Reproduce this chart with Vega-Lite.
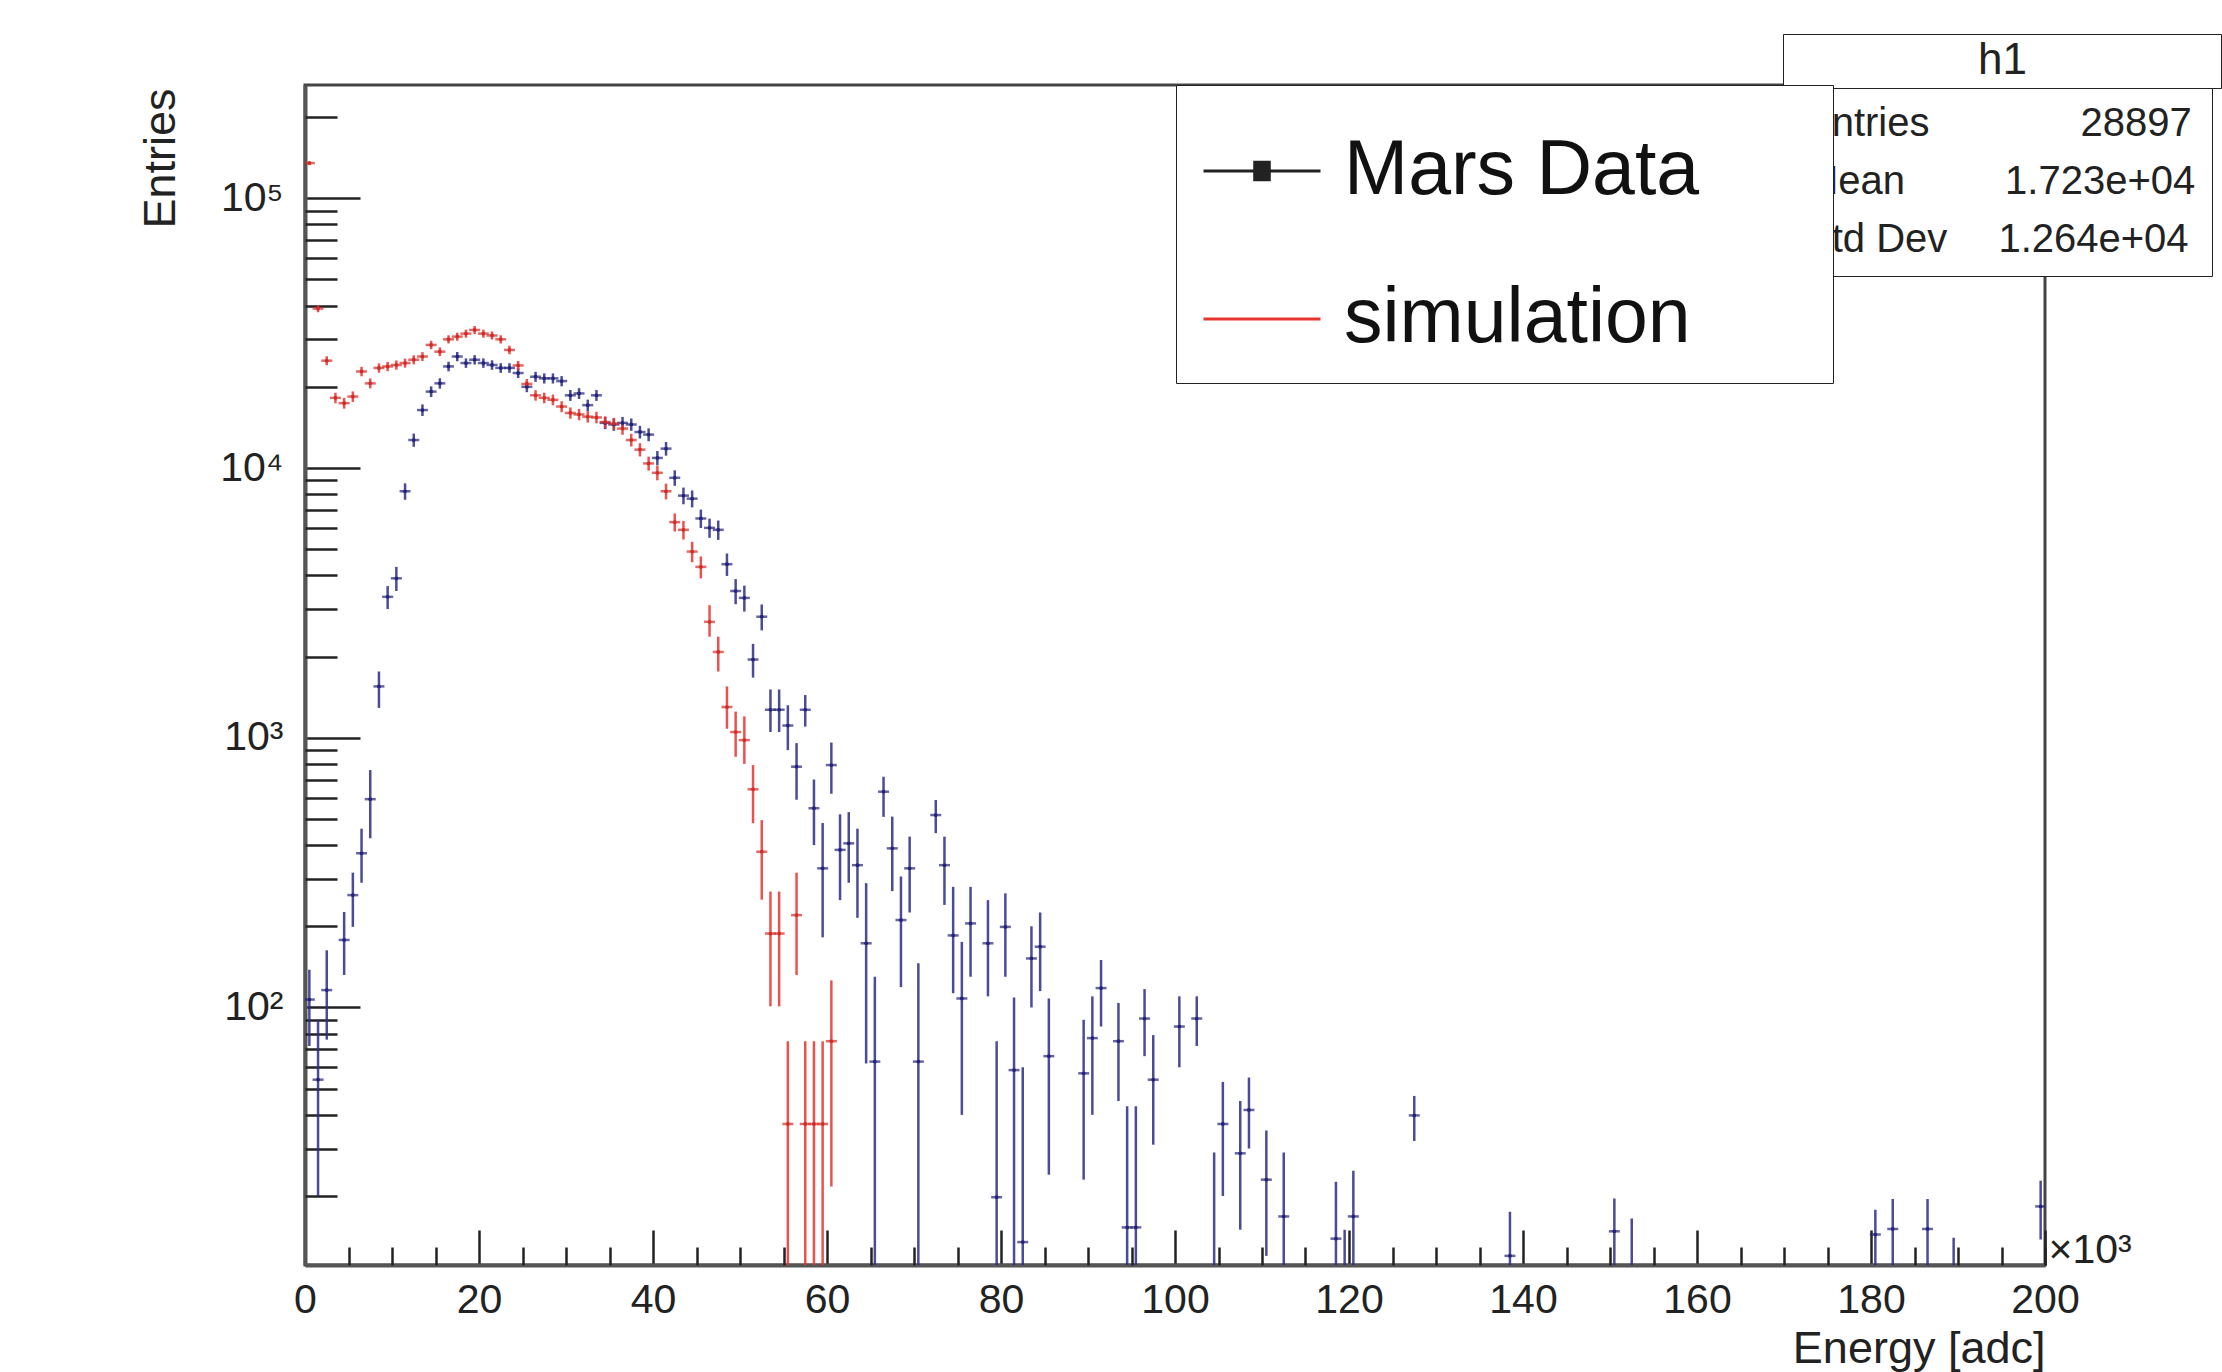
{
  "$schema": "https://vega.github.io/schema/vega-lite/v6.json",
  "width": 1740,
  "height": 1180,
  "autosize": {"type": "none"},
  "padding": {"left": 305, "top": 85, "right": 177, "bottom": 107},
  "background": "white",
  "config": {
    "font": "Liberation Sans",
    "view": {"stroke": "#444", "strokeWidth": 3}
  },
  "datasets": {
    "hist": [
      {"s":"Mars Data","x":0.5,"v":107,"lo":72,"hi":138},
      {"s":"Mars Data","x":1.5,"v":54,"lo":20,"hi":90},
      {"s":"Mars Data","x":2.5,"v":116,"lo":76,"hi":163},
      {"s":"Mars Data","x":4.5,"v":178,"lo":132,"hi":226},
      {"s":"Mars Data","x":5.5,"v":261,"lo":199,"hi":316},
      {"s":"Mars Data","x":6.5,"v":373,"lo":290,"hi":460},
      {"s":"Mars Data","x":7.5,"v":592,"lo":424,"hi":759},
      {"s":"Mars Data","x":8.5,"v":1550,"lo":1290,"hi":1760},
      {"s":"Mars Data","x":9.5,"v":3330,"lo":3000,"hi":3650},
      {"s":"Mars Data","x":10.5,"v":3900,"lo":3500,"hi":4300},
      {"s":"Mars Data","x":11.5,"v":8200,"lo":7627,"hi":8773},
      {"s":"Mars Data","x":12.5,"v":12700,"lo":11987,"hi":13413},
      {"s":"Mars Data","x":13.5,"v":16400,"lo":15590,"hi":17210},
      {"s":"Mars Data","x":14.5,"v":19200,"lo":18324,"hi":20076},
      {"s":"Mars Data","x":15.5,"v":20600,"lo":19692,"hi":21508},
      {"s":"Mars Data","x":16.5,"v":23800,"lo":22824,"hi":24776},
      {"s":"Mars Data","x":17.5,"v":25900,"lo":24882,"hi":26918},
      {"s":"Mars Data","x":18.5,"v":24500,"lo":23510,"hi":25490},
      {"s":"Mars Data","x":19.5,"v":25200,"lo":24196,"hi":26204},
      {"s":"Mars Data","x":20.5,"v":24500,"lo":23510,"hi":25490},
      {"s":"Mars Data","x":21.5,"v":24100,"lo":23118,"hi":25082},
      {"s":"Mars Data","x":22.5,"v":23500,"lo":22530,"hi":24470},
      {"s":"Mars Data","x":23.5,"v":23500,"lo":22530,"hi":24470},
      {"s":"Mars Data","x":24.5,"v":22500,"lo":21551,"hi":23449},
      {"s":"Mars Data","x":25.5,"v":20000,"lo":19106,"hi":20894},
      {"s":"Mars Data","x":26.5,"v":21800,"lo":20866,"hi":22734},
      {"s":"Mars Data","x":27.5,"v":21500,"lo":20573,"hi":22427},
      {"s":"Mars Data","x":28.5,"v":21500,"lo":20573,"hi":22427},
      {"s":"Mars Data","x":29.5,"v":21000,"lo":20083,"hi":21917},
      {"s":"Mars Data","x":30.5,"v":18600,"lo":17737,"hi":19463},
      {"s":"Mars Data","x":31.5,"v":18900,"lo":18031,"hi":19769},
      {"s":"Mars Data","x":32.5,"v":17100,"lo":16273,"hi":17927},
      {"s":"Mars Data","x":33.5,"v":18600,"lo":17737,"hi":19463},
      {"s":"Mars Data","x":34.5,"v":14700,"lo":13933,"hi":15467},
      {"s":"Mars Data","x":35.5,"v":14500,"lo":13738,"hi":15262},
      {"s":"Mars Data","x":36.5,"v":14700,"lo":13933,"hi":15467},
      {"s":"Mars Data","x":37.5,"v":14500,"lo":13738,"hi":15262},
      {"s":"Mars Data","x":38.5,"v":13600,"lo":12862,"hi":14338},
      {"s":"Mars Data","x":39.5,"v":13300,"lo":12571,"hi":14029},
      {"s":"Mars Data","x":40.5,"v":10900,"lo":10240,"hi":11560},
      {"s":"Mars Data","x":41.5,"v":11800,"lo":11113,"hi":12487},
      {"s":"Mars Data","x":42.5,"v":9200,"lo":8593,"hi":9807},
      {"s":"Mars Data","x":43.5,"v":7900,"lo":7338,"hi":8462},
      {"s":"Mars Data","x":44.5,"v":7700,"lo":7145,"hi":8255},
      {"s":"Mars Data","x":45.5,"v":6500,"lo":5990,"hi":7010},
      {"s":"Mars Data","x":46.5,"v":6000,"lo":5510,"hi":6490},
      {"s":"Mars Data","x":47.5,"v":5900,"lo":5414,"hi":6386},
      {"s":"Mars Data","x":48.5,"v":4400,"lo":3980,"hi":4820},
      {"s":"Mars Data","x":49.5,"v":3500,"lo":3126,"hi":3874},
      {"s":"Mars Data","x":50.5,"v":3300,"lo":2937,"hi":3663},
      {"s":"Mars Data","x":51.5,"v":1950,"lo":1671,"hi":2229},
      {"s":"Mars Data","x":52.5,"v":2810,"lo":2500,"hi":3120},
      {"s":"Mars Data","x":53.5,"v":1270,"lo":1050,"hi":1510},
      {"s":"Mars Data","x":54.5,"v":1270,"lo":1050,"hi":1510},
      {"s":"Mars Data","x":55.5,"v":1110,"lo":900,"hi":1320},
      {"s":"Mars Data","x":56.5,"v":781,"lo":589,"hi":955},
      {"s":"Mars Data","x":57.5,"v":1270,"lo":1100,"hi":1440},
      {"s":"Mars Data","x":58.5,"v":548,"lo":400,"hi":700},
      {"s":"Mars Data","x":59.5,"v":328,"lo":182,"hi":483},
      {"s":"Mars Data","x":60.5,"v":792,"lo":620,"hi":960},
      {"s":"Mars Data","x":61.5,"v":384,"lo":250,"hi":520},
      {"s":"Mars Data","x":62.5,"v":406,"lo":290,"hi":530},
      {"s":"Mars Data","x":63.5,"v":337,"lo":215,"hi":460},
      {"s":"Mars Data","x":64.5,"v":173,"lo":62,"hi":289},
      {"s":"Mars Data","x":65.5,"v":63,"lo":1,"hi":130},
      {"s":"Mars Data","x":66.5,"v":631,"lo":509,"hi":717},
      {"s":"Mars Data","x":67.5,"v":389,"lo":270,"hi":510},
      {"s":"Mars Data","x":68.5,"v":211,"lo":119,"hi":306},
      {"s":"Mars Data","x":69.5,"v":328,"lo":225,"hi":430},
      {"s":"Mars Data","x":70.5,"v":63,"lo":1,"hi":146},
      {"s":"Mars Data","x":72.5,"v":517,"lo":443,"hi":588},
      {"s":"Mars Data","x":73.5,"v":337,"lo":240,"hi":430},
      {"s":"Mars Data","x":74.5,"v":185,"lo":113,"hi":280},
      {"s":"Mars Data","x":75.5,"v":108,"lo":40,"hi":175},
      {"s":"Mars Data","x":76.5,"v":205,"lo":130,"hi":280},
      {"s":"Mars Data","x":78.5,"v":173,"lo":110,"hi":250},
      {"s":"Mars Data","x":79.5,"v":19.8,"lo":1,"hi":75},
      {"s":"Mars Data","x":80.5,"v":199,"lo":130,"hi":265},
      {"s":"Mars Data","x":81.5,"v":58.6,"lo":1,"hi":109},
      {"s":"Mars Data","x":82.5,"v":13.5,"lo":1,"hi":60},
      {"s":"Mars Data","x":83.5,"v":152,"lo":100,"hi":200},
      {"s":"Mars Data","x":84.5,"v":168,"lo":115,"hi":225},
      {"s":"Mars Data","x":85.5,"v":66,"lo":24,"hi":108},
      {"s":"Mars Data","x":89.5,"v":57,"lo":23,"hi":90},
      {"s":"Mars Data","x":90.5,"v":77,"lo":40,"hi":110},
      {"s":"Mars Data","x":91.5,"v":118,"lo":85,"hi":150},
      {"s":"Mars Data","x":93.5,"v":75,"lo":45,"hi":104},
      {"s":"Mars Data","x":94.5,"v":15.3,"lo":1,"hi":43},
      {"s":"Mars Data","x":95.5,"v":15.3,"lo":1,"hi":43},
      {"s":"Mars Data","x":96.5,"v":91,"lo":66,"hi":117},
      {"s":"Mars Data","x":97.5,"v":54,"lo":31,"hi":79},
      {"s":"Mars Data","x":100.5,"v":85,"lo":60,"hi":110},
      {"s":"Mars Data","x":102.5,"v":91,"lo":72,"hi":110},
      {"s":"Mars Data","x":104.5,"v":9,"lo":1,"hi":29},
      {"s":"Mars Data","x":105.5,"v":37,"lo":20,"hi":53},
      {"s":"Mars Data","x":107.5,"v":28.8,"lo":15,"hi":45},
      {"s":"Mars Data","x":108.5,"v":41.7,"lo":30,"hi":55},
      {"s":"Mars Data","x":110.5,"v":23,"lo":12,"hi":35},
      {"s":"Mars Data","x":112.5,"v":16.8,"lo":1,"hi":29},
      {"s":"Mars Data","x":118.5,"v":13.9,"lo":1,"hi":22.6},
      {"s":"Mars Data","x":119.5,"v":9,"lo":1,"hi":15},
      {"s":"Mars Data","x":120.5,"v":16.8,"lo":1,"hi":24.8},
      {"s":"Mars Data","x":127.5,"v":39.8,"lo":32,"hi":47},
      {"s":"Mars Data","x":138.5,"v":12,"lo":1,"hi":17.5},
      {"s":"Mars Data","x":150.5,"v":14.8,"lo":1,"hi":19.6},
      {"s":"Mars Data","x":152.5,"v":9,"lo":1,"hi":16.5},
      {"s":"Mars Data","x":180.5,"v":14.4,"lo":1,"hi":17.8},
      {"s":"Mars Data","x":182.5,"v":15.1,"lo":1,"hi":19.5},
      {"s":"Mars Data","x":186.5,"v":15.1,"lo":1,"hi":19.5},
      {"s":"Mars Data","x":189.5,"v":9,"lo":1,"hi":14},
      {"s":"Mars Data","x":199.5,"v":18.3,"lo":13.8,"hi":22.8},
      {"s":"simulation","x":0.5,"v":135000,"lo":132800,"hi":137200},
      {"s":"simulation","x":1.5,"v":39000,"lo":37800,"hi":40200},
      {"s":"simulation","x":2.5,"v":25000,"lo":24040,"hi":25960},
      {"s":"simulation","x":3.5,"v":18200,"lo":17380,"hi":19020},
      {"s":"simulation","x":4.5,"v":17400,"lo":16600,"hi":18200},
      {"s":"simulation","x":5.5,"v":18400,"lo":17575,"hi":19225},
      {"s":"simulation","x":6.5,"v":22800,"lo":21880,"hi":23720},
      {"s":"simulation","x":7.5,"v":20600,"lo":19730,"hi":21470},
      {"s":"simulation","x":8.5,"v":23500,"lo":22570,"hi":24430},
      {"s":"simulation","x":9.5,"v":23800,"lo":22860,"hi":24740},
      {"s":"simulation","x":10.5,"v":24100,"lo":23155,"hi":25045},
      {"s":"simulation","x":11.5,"v":24500,"lo":23550,"hi":25450},
      {"s":"simulation","x":12.5,"v":25200,"lo":24235,"hi":26165},
      {"s":"simulation","x":13.5,"v":25900,"lo":24920,"hi":26880},
      {"s":"simulation","x":14.5,"v":28600,"lo":27570,"hi":29630},
      {"s":"simulation","x":15.5,"v":27000,"lo":26000,"hi":28000},
      {"s":"simulation","x":16.5,"v":30000,"lo":28950,"hi":31050},
      {"s":"simulation","x":17.5,"v":30700,"lo":29635,"hi":31765},
      {"s":"simulation","x":18.5,"v":31500,"lo":30420,"hi":32580},
      {"s":"simulation","x":19.5,"v":32500,"lo":31400,"hi":33600},
      {"s":"simulation","x":20.5,"v":31500,"lo":30420,"hi":32580},
      {"s":"simulation","x":21.5,"v":31000,"lo":29930,"hi":32070},
      {"s":"simulation","x":22.5,"v":30000,"lo":28950,"hi":31050},
      {"s":"simulation","x":23.5,"v":27400,"lo":26395,"hi":28405},
      {"s":"simulation","x":24.5,"v":24000,"lo":23060,"hi":24940},
      {"s":"simulation","x":25.5,"v":20500,"lo":19630,"hi":21370},
      {"s":"simulation","x":26.5,"v":18600,"lo":17770,"hi":19430},
      {"s":"simulation","x":27.5,"v":18200,"lo":17380,"hi":19020},
      {"s":"simulation","x":28.5,"v":17900,"lo":17085,"hi":18715},
      {"s":"simulation","x":29.5,"v":16900,"lo":16110,"hi":17690},
      {"s":"simulation","x":30.5,"v":16000,"lo":15230,"hi":16770},
      {"s":"simulation","x":31.5,"v":15800,"lo":15035,"hi":16565},
      {"s":"simulation","x":32.5,"v":15500,"lo":14743,"hi":16257},
      {"s":"simulation","x":33.5,"v":15400,"lo":14645,"hi":16155},
      {"s":"simulation","x":34.5,"v":14800,"lo":14060,"hi":15540},
      {"s":"simulation","x":35.5,"v":14600,"lo":13865,"hi":15335},
      {"s":"simulation","x":36.5,"v":14000,"lo":13280,"hi":14720},
      {"s":"simulation","x":37.5,"v":12700,"lo":12015,"hi":13385},
      {"s":"simulation","x":38.5,"v":11700,"lo":11040,"hi":12360},
      {"s":"simulation","x":39.5,"v":10400,"lo":9780,"hi":11020},
      {"s":"simulation","x":40.5,"v":9600,"lo":9005,"hi":10195},
      {"s":"simulation","x":41.5,"v":8200,"lo":7650,"hi":8750},
      {"s":"simulation","x":42.5,"v":6300,"lo":5817,"hi":6783},
      {"s":"simulation","x":43.5,"v":5900,"lo":5433,"hi":6367},
      {"s":"simulation","x":44.5,"v":4900,"lo":4475,"hi":5325},
      {"s":"simulation","x":45.5,"v":4300,"lo":3900,"hi":4700},
      {"s":"simulation","x":46.5,"v":2690,"lo":2370,"hi":3100},
      {"s":"simulation","x":47.5,"v":2080,"lo":1760,"hi":2370},
      {"s":"simulation","x":48.5,"v":1300,"lo":1080,"hi":1550},
      {"s":"simulation","x":49.5,"v":1050,"lo":850,"hi":1250},
      {"s":"simulation","x":50.5,"v":980,"lo":800,"hi":1200},
      {"s":"simulation","x":51.5,"v":644,"lo":482,"hi":792},
      {"s":"simulation","x":52.5,"v":378,"lo":251,"hi":495},
      {"s":"simulation","x":53.5,"v":188,"lo":101,"hi":269},
      {"s":"simulation","x":54.5,"v":188,"lo":101,"hi":269},
      {"s":"simulation","x":55.5,"v":37,"lo":1,"hi":75},
      {"s":"simulation","x":56.5,"v":220,"lo":132,"hi":316},
      {"s":"simulation","x":57.5,"v":37,"lo":1,"hi":75},
      {"s":"simulation","x":58.5,"v":37,"lo":1,"hi":75},
      {"s":"simulation","x":59.5,"v":37,"lo":1,"hi":75},
      {"s":"simulation","x":60.5,"v":75,"lo":21.7,"hi":126}
    ],
    "series": [{"s": "Mars Data"}, {"s": "simulation"}],
    "stats": [
      {"stat": "Entries", "value": "28897"},
      {"stat": "Mean", "value": "1.723e+04"},
      {"stat": "Std Dev", "value": "1.264e+04"}
    ],
    "head": [{"hist": "h1"}]
  },
  "layer": [
    {
      "data": {"name": "hist"},
      "mark": {"type": "rule", "strokeWidth": 2.5, "opacity": 0.85, "clip": true},
      "encoding": {
        "x": {
          "field": "x", "type": "quantitative",
          "scale": {"domain": [0, 200], "nice": false, "zero": false},
          "axis": {
            "orient": "bottom",
            "values": [0, 20, 40, 60, 80, 100, 120, 140, 160, 180, 200],
            "tickSize": -35, "tickWidth": 2.5, "tickColor": "#222",
            "domainColor": "#555", "domainWidth": 4,
            "grid": false, "labelFlush": false,
            "labelFontSize": 41, "labelColor": "#222", "labelPadding": 50,
            "title": "Energy [adc]", "titleFontSize": 45, "titleFontWeight": "normal",
            "titleColor": "#222", "titleAnchor": "end", "titleAlign": "right",
            "titleBaseline": "alphabetic", "titleX": 1740, "titleY": 97
          }
        },
        "y": {
          "field": "lo", "type": "quantitative",
          "scale": {"type": "log", "domain": [11.1, 263000], "nice": false},
          "axis": {
            "orient": "left",
            "values": [100, 1000, 10000, 100000],
            "labelExpr": "datum.value >= 99999 ? '10\u2075' : datum.value >= 9999 ? '10\u2074' : datum.value >= 999 ? '10\u00b3' : '10\u00b2'",
            "tickSize": -55, "tickWidth": 2.5, "tickColor": "#222",
            "domainColor": "#555", "domainWidth": 4,
            "grid": false, "labelFlush": false,
            "labelFontSize": 41, "labelColor": "#222", "labelPadding": 77,
            "labelAlign": "right", "labelBaseline": "middle",
            "title": "Entries", "titleFontSize": 45, "titleFontWeight": "normal",
            "titleColor": "#222", "titleAngle": 270, "titleAlign": "right",
            "titleBaseline": "middle", "titleX": -145, "titleY": 3
          }
        },
        "y2": {"field": "hi"},
        "stroke": {
          "field": "s", "type": "nominal",
          "scale": {"range": ["#2b2b88", "#e8342f"]},
          "legend": null
        }
      }
    },
    {
      "data": {"name": "hist"},
      "mark": {"type": "tick", "orient": "horizontal", "size": 11, "thickness": 2.5, "clip": true},
      "encoding": {
        "x": {
          "field": "x", "type": "quantitative",
          "axis": {
            "orient": "bottom",
            "values": [5, 10, 15, 25, 30, 35, 45, 50, 55, 65, 70, 75, 85, 90, 95, 105, 110, 115, 125, 130, 135, 145, 150, 155, 165, 170, 175, 185, 190, 195, 200],
            "tickSize": -18, "tickWidth": 2.5, "tickColor": "#222",
            "domain": false, "grid": false, "labelFlush": false,
            "labelExpr": "datum.value == 200 ? '\u00d710\u00b3' : ''",
            "labelAlign": "left", "labelBaseline": "alphabetic",
            "labelPadding": 15, "labelOffset": 3,
            "labelFontSize": 41, "labelColor": "#222",
            "title": null
          }
        },
        "y": {
          "field": "v", "type": "quantitative",
          "axis": {
            "orient": "left",
            "values": [20, 30, 40, 50, 60, 70, 80, 90, 200, 300, 400, 500, 600, 700, 800, 900, 2000, 3000, 4000, 5000, 6000, 7000, 8000, 9000, 20000, 30000, 40000, 50000, 60000, 70000, 80000, 90000, 200000],
            "tickSize": -32, "tickWidth": 2.5, "tickColor": "#222",
            "domain": false, "grid": false, "labels": false,
            "title": null
          }
        },
        "fill": {
          "field": "s", "type": "nominal",
          "scale": {"range": ["#23237a", "#d42a25"]},
          "legend": null
        }
      }
    },
    {
      "data": {"name": "hist"},
      "mark": {"type": "point", "filled": true, "size": 14, "opacity": 1, "clip": true},
      "encoding": {
        "x": {"field": "x", "type": "quantitative", "axis": null},
        "y": {"field": "v", "type": "quantitative", "axis": null},
        "fill": {"field": "s", "type": "nominal", "legend": null}
      }
    },
    {
      "data": {"name": "series"},
      "mark": {"type": "line", "opacity": 0},
      "encoding": {
        "color": {
          "field": "s", "type": "nominal",
          "scale": {"domain": ["Mars Data", "simulation"], "range": ["#222", "#e8342f"]},
          "legend": {
            "orient": "none", "legendX": 871, "legendY": 0, "zindex": 3,
            "title": null, "padding": 26, "rowPadding": 50,
            "strokeColor": "#222", "fillColor": "white",
            "symbolSize": 13689, "symbolStrokeWidth": 3, "symbolOpacity": 1,
            "labelFontSize": 77, "labelColor": "#111", "labelOffset": 22,
            "labelBaseline": "middle", "labelLimit": 3000,
            "labelExpr": "datum.label + '\u00a0\u00a0\u00a0\u00a0\u00a0\u200b'",
            "encode": {
              "symbols": {
                "update": {
                  "shape": {"signal": "datum.value === 'Mars Data' ? 'M-1,0H1M-0.15,-0.15H0.15M-0.15,-0.1H0.15M-0.15,-0.05H0.15M-0.15,0.05H0.15M-0.15,0.1H0.15M-0.15,0.15H0.15' : 'M-1,0H1'"},
                  "stroke": {"signal": "datum.value === 'Mars Data' ? '#222' : '#e8342f'"},
                  "opacity": {"value": 1}
                }
              }
            }
          }
        }
      }
    },
    {
      "data": {"name": "stats"},
      "mark": {"type": "point", "opacity": 0, "size": 0},
      "encoding": {
        "shape": {
          "field": "stat", "type": "nominal",
          "legend": {
            "orient": "none", "legendX": 1478, "legendY": 3, "zindex": 1,
            "title": null, "padding": 16, "rowPadding": 18,
            "strokeColor": "#222", "fillColor": "white",
            "symbolSize": 4, "symbolOpacity": 0, "symbolStrokeWidth": 0,
            "labelFontSize": 40, "labelColor": "#222", "labelOffset": -34,
            "labelLimit": 3000,
            "labelExpr": "datum.label === 'Entries' ? 'Entries\u2003\u2003\u2003\u2002\u00a028897' : datum.label === 'Mean' ? 'Mean\u2003\u2003\u20021.723e+04' : 'Std Dev\u2003\u00a01.264e+04'"
          }
        }
      }
    },
    {
      "data": {"name": "head"},
      "mark": {"type": "point", "opacity": 0, "size": 0},
      "encoding": {
        "strokeDash": {
          "field": "hist", "type": "nominal",
          "legend": {
            "orient": "none", "legendX": 1478, "legendY": -51, "zindex": 1,
            "title": null, "padding": 5,
            "strokeColor": "#222", "fillColor": "white",
            "symbolSize": 4, "symbolOpacity": 0, "symbolStrokeWidth": 0,
            "labelFontSize": 44, "labelColor": "#222", "labelOffset": 146,
            "labelLimit": 3000,
            "labelExpr": "datum.label + '\u2003\u2003\u2003\u2003\u00a0\u200b'"
          }
        }
      }
    }
  ],
  "resolve": {"axis": {"x": "independent", "y": "independent"}}
}
